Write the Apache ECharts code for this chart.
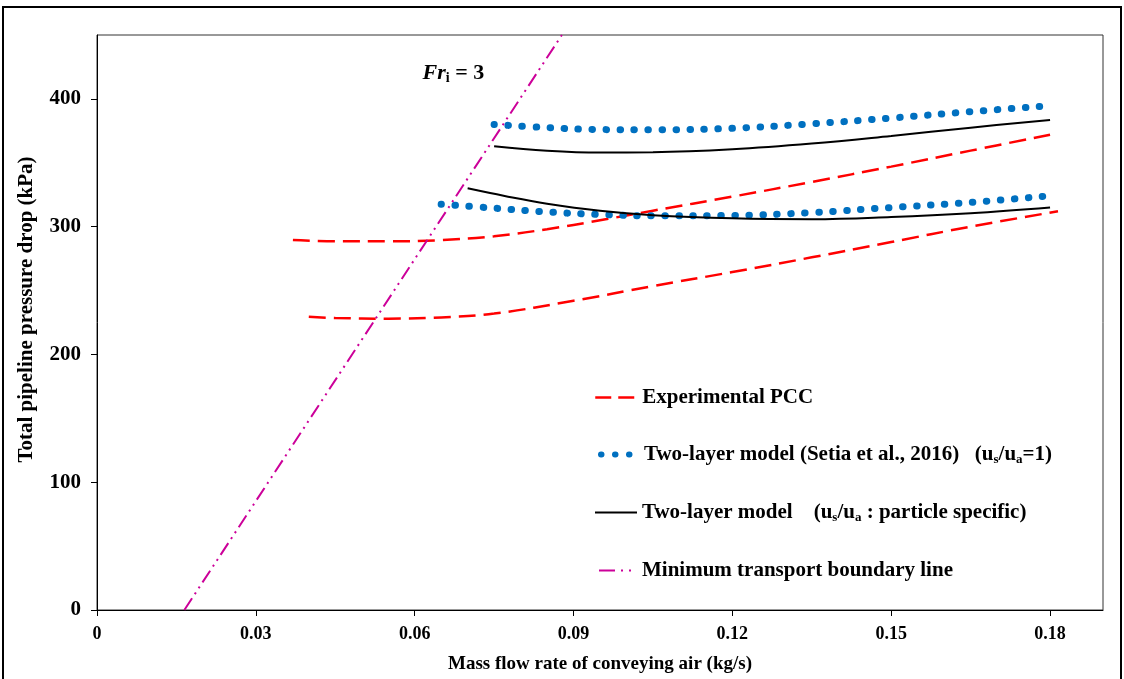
<!DOCTYPE html>
<html><head><meta charset="utf-8">
<script src="https://cdn.jsdelivr.net/npm/echarts@6/dist/echarts.min.js"></script>
<style>html,body{margin:0;padding:0;background:#fff}#c{width:1124px;height:679px}</style>
</head><body><div id="c"></div>
<script>
// ---- data ----
const xTicks = [0, 0.03, 0.06, 0.09, 0.12, 0.15, 0.18];
const yTicks = [0, 100, 200, 300, 400];

const expHighX = [0.037, 0.045, 0.055, 0.065, 0.075, 0.085, 0.095, 0.105, 0.12, 0.135, 0.15, 0.165, 0.18];
const expHighY = [289.5, 288.5, 288.5, 289.5, 292.5, 298, 305, 312.5, 323.5, 335, 347, 359.5, 372];
const expLowX = [0.04, 0.045, 0.055, 0.065, 0.075, 0.09, 0.105, 0.12, 0.135, 0.15, 0.165, 0.1815];
const expLowY = [229.5, 228.5, 228, 229, 232, 242, 253.5, 264.5, 276, 288, 300, 312];

const setiaHighX = [0.075, 0.085, 0.095, 0.105, 0.12, 0.135, 0.15, 0.165, 0.1795];
const setiaHighY = [380, 377.5, 376, 375.8, 377, 380.5, 385, 390, 394.5];
const setiaLowX = [0.065, 0.075, 0.085, 0.095, 0.105, 0.12, 0.135, 0.15, 0.165, 0.1795];
const setiaLowY = [317.5, 314.5, 311.5, 309.5, 308.5, 308.8, 311, 315, 319, 324];

const specHighX = [0.075, 0.085, 0.095, 0.105, 0.12, 0.135, 0.15, 0.165, 0.18];
const specHighY = [363, 359.5, 358, 358.2, 360.5, 365, 371, 377.5, 383.5];
const specLowX = [0.07, 0.077, 0.085, 0.095, 0.105, 0.12, 0.135, 0.15, 0.165, 0.18];
const specLowY = [330, 324, 318, 312.5, 309, 306.5, 305.8, 307.5, 310.5, 315];

const boundaryX = [0.0165, 0.0878];
const boundaryY = [0, 450];

const names = ['Experimental PCC', 'Two-layer model (Setia et al., 2016)', 'Two-layer model particle specific', 'Minimum transport boundary line'];

const zip = (a, b) => a.map((v, i) => [v, b[i]]);

const F = 'Liberation Serif';
const RED = '#FF0000', BLUE = '#0070C0', BLACK = '#000000', MAG = '#CC0099';

const redStyle = {color: RED, width: 2.5, type: [17, 8]};
const blueStyle = {color: BLUE, width: 7, type: [0.5, 13.5], cap: 'round'};
const blackStyle = {color: BLACK, width: 2, type: 'solid'};
const magStyle = {color: MAG, width: 2, type: [14, 5, 2, 5, 2, 5]};
const legendLine = [
  {color: RED, width: 2.5, type: [16, 7], dashOffset: 0},
  {color: BLUE, width: 6, type: [0.5, 13.5], cap: 'round', dashOffset: -4},
  {color: BLACK, width: 2, type: 'solid'},
  {color: MAG, width: 2, type: [16, 6, 2, 6, 2, 6]}
];

function line(name, data, ls, extra) {
  return Object.assign({
    name: name, type: 'line', data: data, smooth: 0.4, symbol: 'none', showSymbol: false,
    lineStyle: ls, itemStyle: {color: ls.color}, z: 3, animation: false
  }, extra || {});
}

const rich = {
  n: {fontFamily: F, fontWeight: 'bold', fontSize: 21, color: '#000'},
  s: {fontFamily: F, fontWeight: 'bold', fontSize: 13, color: '#000', padding: [10, 0, 0, 0]}
};
const legendText = {
  [names[0]]: '{n|Experimental PCC}',
  [names[1]]: '{n|Two-layer model (Setia et al., 2016)   (u}{s|s}{n|/u}{s|a}{n|=1)}',
  [names[2]]: '{n|Two-layer model    (u}{s|s}{n|/u}{s|a}{n| : particle specific)}',
  [names[3]]: '{n|Minimum transport boundary line}'
};
const legendTops = [382, 439, 497, 555];
const legends = names.map((nm, i) => ({
  data: [nm], left: 589, top: legendTops[i], orient: 'vertical',
  itemWidth: 42, itemHeight: 14, selectedMode: false,
  itemStyle: {opacity: 0},
  lineStyle: legendLine[i],
  formatter: n => legendText[n],
  textStyle: {rich: rich, fontFamily: F, fontWeight: 'bold', fontSize: 21}
}));

const chart = echarts.init(document.getElementById('c'), null, {renderer: 'canvas'});
chart.setOption({
  backgroundColor: '#fff',
  animation: false,
  grid: {left: 97, top: 35, right: 21, bottom: 69, show: true, borderColor: '#333', borderWidth: 1},
  legend: legends,
  graphic: [{
    type: 'rect', shape: {x: 3, y: 7, width: 1118, height: 690},
    style: {fill: 'none', stroke: '#000', lineWidth: 2}, silent: true, z: 0
  }],
  xAxis: {
    type: 'value', min: 0, max: 0.19, interval: 0.03,
    axisLine: {show: true, lineStyle: {color: '#000', width: 1}},
    axisTick: {show: true, inside: false, length: 6, lineStyle: {color: '#000'}},
    splitLine: {show: false},
    axisLabel: {showMaxLabel: false, margin: 15, fontFamily: F, fontWeight: 'bold', fontSize: 18, color: '#000',
      formatter: v => xTicks.includes(+v.toFixed(2)) ? String(+v.toFixed(2)) : ''},
    name: 'Mass flow rate of conveying air (kg/s)', nameLocation: 'middle', nameGap: 45,
    nameTextStyle: {fontFamily: F, fontWeight: 'bold', fontSize: 19, color: '#000'}
  },
  yAxis: {
    type: 'value', min: 0, max: 450, interval: 100,
    axisLine: {show: true, lineStyle: {color: '#000', width: 1}},
    axisTick: {show: true, inside: false, length: 6, lineStyle: {color: '#000'}},
    splitLine: {show: false},
    axisLabel: {showMaxLabel: false, margin: 16, fontFamily: F, fontWeight: 'bold', fontSize: 21, color: '#000',
      formatter: v => yTicks.includes(v) ? String(v) : ''},
    name: 'Total pipeline pressure drop (kPa)', nameLocation: 'middle', nameGap: 60,
    nameTextStyle: {fontFamily: F, fontWeight: 'bold', fontSize: 21, color: '#000', padding: [0, 0, 0, 26]}
  },
  series: [
    line(names[0], zip(expHighX, expHighY), redStyle),
    line(names[0], zip(expLowX, expLowY), redStyle),
    line(names[1], zip(setiaHighX, setiaHighY), blueStyle),
    line(names[1], zip(setiaLowX, setiaLowY), blueStyle),
    line(names[2], zip(specHighX, specHighY), blackStyle),
    line(names[2], zip(specLowX, specLowY), blackStyle),
    line(names[3], zip(boundaryX, boundaryY), magStyle, {
      smooth: false, clip: true,
      markPoint: {
        symbol: 'circle', symbolSize: 0, silent: true,
        data: [{coord: [0.0673, 420]}],
        label: {
          show: true, position: 'inside',
          formatter: '{f|Fr}{i|i}{e| = 3}',
          rich: {
            f: {fontFamily: F, fontWeight: 'bold', fontStyle: 'italic', fontSize: 22, color: '#000'},
            i: {fontFamily: F, fontWeight: 'bold', fontSize: 14, color: '#000', padding: [11, 0, 0, 0]},
            e: {fontFamily: F, fontWeight: 'bold', fontSize: 22, color: '#000'}
          }
        }
      }
    })
  ]
});
</script></body></html>
